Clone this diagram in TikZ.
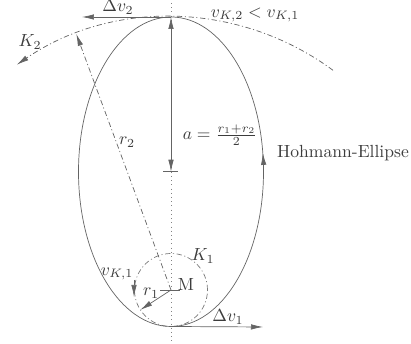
\documentclass[tikz,border=0pt]{standalone}
\usepackage{amsmath}
\usetikzlibrary{positioning,arrows.meta,calc}
\definecolor{inkgray}{RGB}{60,60,60}
\definecolor{linegray}{RGB}{100,100,100}

\begin{document}
\begin{tikzpicture}[
  transfer/.style={linegray,thin},
  axisline/.style={linegray!80,dotted},
  dashdot/.style={linegray!85,dash pattern=on 3pt off 1.5pt on 0.6pt off 1.5pt},
  arr/.style={-{Latex[length=2.4mm,width=1.1mm]},linegray},
  darr/.style={{Latex[length=2.4mm,width=1.1mm]}-{Latex[length=2.4mm,width=1.1mm]},linegray},
  lbl/.style={text=inkgray}
]
\useasboundingbox (-3.42,-1.08) rectangle (4.8,5.8);
\coordinate (M) at (0,0);
\coordinate (C) at (0,2.365);
\coordinate (T) at (0,5.46);
\coordinate (B) at (0,-0.73);
\coordinate (axistop) at (0,5.74);
\coordinate (axisbot) at (0,-1.08);
\coordinate (dv1tip) at (1.84,-0.74);
\coordinate (dv2tip) at (-1.78,5.46);
\coordinate (r1tip) at (213:0.73);
\coordinate (r2tip) at (110.3:5.46);
\coordinate (vk1top) at (-0.74,0.2);
\coordinate (vk1bot) at (-0.74,-0.14);
% axis and ticks
\draw[axisline] (axistop) -- (axisbot);
\draw[linegray] ($(C)+(-0.15,0)$) -- ($(C)+(0.15,0)$);
\draw[linegray] ($(M)+(-0.22,0)$) -- ($(M)+(0.18,0)$);
% orbits
\draw[dashdot] (M) circle[radius=0.73];
\draw[transfer] (C) ellipse[x radius=1.85,y radius=3.095];
\draw[dashdot,arr] (53.6:5.46) arc[start angle=53.6,end angle=124.4,radius=5.46];
\draw[arr] ([shift={(C)}]-2:1.85 and 3.095) arc[start angle=-2,end angle=7,x radius=1.85,y radius=3.095];
% radii and velocities
\draw[darr] (T) -- (C);
\draw[dashdot,arr] (M) -- (r2tip);
\draw[arr] (M) -- (r1tip);
\draw[arr] (vk1top) -- (vk1bot);
\draw[arr] (B) -- (dv1tip);
\draw[arr] (T) -- (dv2tip);
% labels
\node[lbl] (dv2) at (-1.06,5.66) {$\Delta v_2$};
\node[lbl] (vk2) at (1.68,5.5) {$v_{K,2} < v_{K,1}$};
\node[lbl] (k2) at (-2.82,4.96) {$K_2$};
\node[lbl] (r2) at (-0.88,2.96) {$r_2$};
\node[lbl] (alabel) at (0.98,3.1) {$a=\frac{r_1+r_2}{2}$};
\node[lbl,anchor=west] (hohmann) at (2.0,2.74) {Hohmann-Ellipse};
\node[lbl] (k1) at (0.64,0.68) {$K_1$};
\node[lbl] (mlabel) at (0.3,0.1) {M};
\node[lbl] (r1) at (-0.4,-0.06) {$r_1$};
\node[lbl] (vk1) at (-1.08,0.32) {$v_{K,1}$};
\node[lbl] (dv1) at (1.14,-0.54) {$\Delta v_1$};
\end{tikzpicture}
\end{document}
